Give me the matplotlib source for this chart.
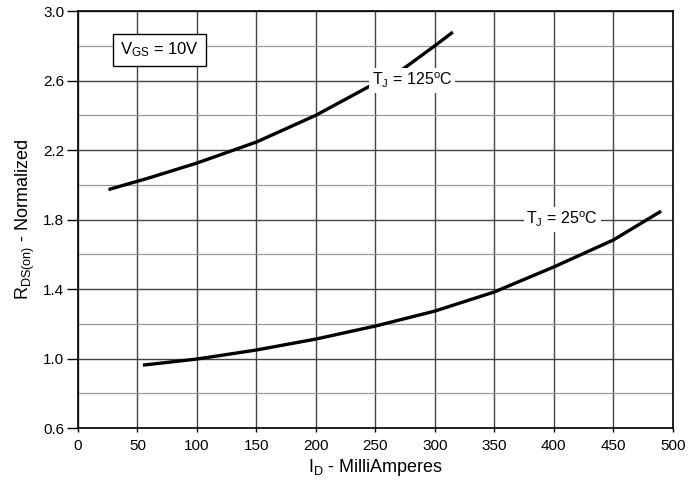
import matplotlib
matplotlib.use('Agg')
from matplotlib import pyplot as plt
from matplotlib.ticker import MultipleLocator

plt.rcParams['font.family'] = ['Liberation Sans', 'DejaVu Sans']
plt.rcParams['mathtext.fontset'] = 'custom'
plt.rcParams['mathtext.rm'] = 'Liberation Sans'
plt.rcParams['mathtext.it'] = 'Liberation Sans'

# I_D (mA) vs normalized R_DS(on)
id_125 = [27, 60, 100, 150, 200, 250, 272, 300, 314]
rds_125 = [1.975, 2.04, 2.125, 2.246, 2.40, 2.585, 2.66, 2.80, 2.873]

id_25 = [56, 100, 150, 200, 250, 300, 350, 400, 450, 489]
rds_25 = [0.963, 0.997, 1.049, 1.112, 1.187, 1.273, 1.383, 1.527, 1.682, 1.843]

x_ticks = list(range(0, 501, 50))
y_ticks = [0.6, 1.0, 1.4, 1.8, 2.2, 2.6, 3.0]

fig = plt.figure(figsize=(6.9, 4.9), dpi=100)
ax = fig.add_axes([0.113, 0.1265, 0.862, 0.851])

ax.set_xlim(0, 500)
ax.set_ylim(0.6, 3.0)
ax.set_xticks(x_ticks)
ax.set_yticks(y_ticks)
ax.set_yticklabels([f'{v:.1f}' for v in y_ticks])
ax.yaxis.set_minor_locator(MultipleLocator(0.2))
ax.tick_params(axis='x', which='major', direction='out', length=3,
               width=1, labelsize=11, pad=5, colors='black')
ax.tick_params(axis='y', which='major', direction='out', length=8,
               width=1, labelsize=11, pad=2, colors='black')
ax.tick_params(axis='y', which='minor', length=0)

ax.grid(True, which='major', color='#444444', linewidth=1.0)
ax.grid(True, which='minor', axis='y', color='#999999', linewidth=0.9)
ax.set_axisbelow(True)
for s in ax.spines.values():
    s.set_linewidth(1.2)
    s.set_color('black')

ax.plot(id_125, rds_125, color='black', linewidth=2.4, zorder=3)
ax.plot(id_25, rds_25, color='black', linewidth=2.4, zorder=3)

ax.set_xlabel(r'I$_{\mathrm{D}}$ - MilliAmperes', fontsize=13, labelpad=3)
ax.set_ylabel(r'R$_{\mathrm{DS(on)}}$ - Normalized', fontsize=13, labelpad=4)

ax.text(281, 2.6, r'T$_{\mathrm{J}}$ = 125$^{\mathrm{o}}$C', fontsize=11.5,
        ha='center', va='center', zorder=4,
        bbox=dict(facecolor='white', edgecolor='none', pad=2))
ax.text(407, 1.8, r'T$_{\mathrm{J}}$ = 25$^{\mathrm{o}}$C', fontsize=11.5,
        ha='center', va='center', zorder=4,
        bbox=dict(facecolor='white', edgecolor='none', pad=2))
ax.text(68.5, 2.776, r'V$_{\mathrm{GS}}$ = 10V', fontsize=12,
        ha='center', va='center', zorder=4,
        bbox=dict(facecolor='white', edgecolor='black', linewidth=1.0, pad=5))

fig.savefig('out.png', dpi=100)
